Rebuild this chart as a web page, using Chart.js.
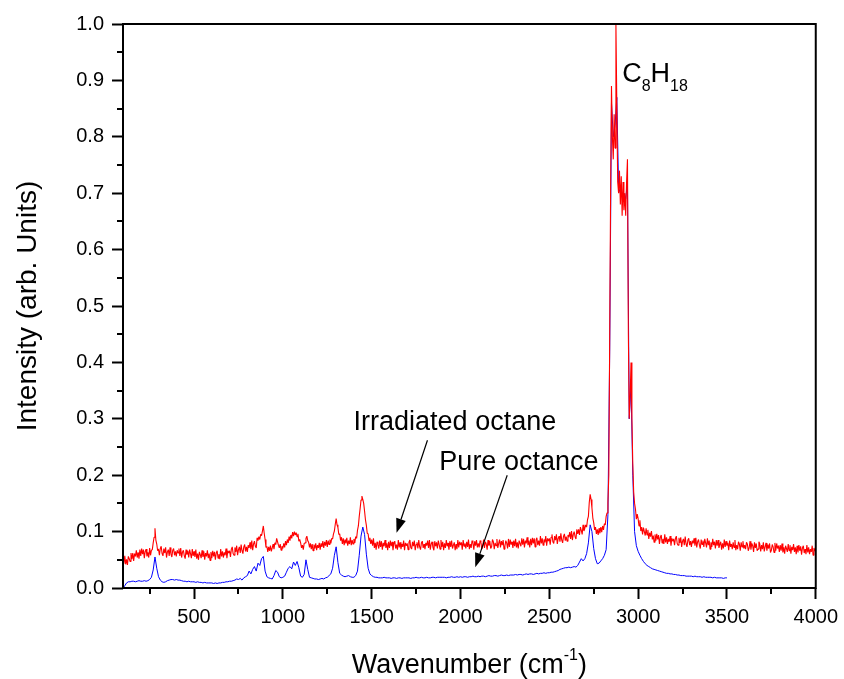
<!DOCTYPE html>
<html>
<head>
<meta charset="utf-8">
<title>Raman spectra of octane</title>
<script src="https://cdn.jsdelivr.net/npm/chart.js@4.4.1/dist/chart.umd.min.js"></script>
<style>
  html, body { margin: 0; padding: 0; background: #fff; }
  #spectrum { display: block; }
</style>
</head>
<body>
<canvas id="spectrum" width="844" height="679"></canvas>
<script>
// irradiated octane, 100 .. 4000 cm-1 every 5 cm-1 (one row = 100 cm-1)
const irradiatedStart = 100;
const irradiatedStep = 5;
const irradiated = [
  0.046, 0.043, 0.057, 0.042, 0.051, 0.041, 0.056, 0.052, 0.047, 0.062, 0.051, 0.062, 0.048, 0.061, 0.056, 0.067, 0.054, 0.063, 0.052, 0.068,
  0.057, 0.070, 0.060, 0.068, 0.053, 0.065, 0.069, 0.056, 0.063, 0.054, 0.071, 0.058, 0.067, 0.068, 0.080, 0.090, 0.106, 0.085, 0.078, 0.066,
  0.069, 0.058, 0.070, 0.074, 0.061, 0.057, 0.070, 0.062, 0.072, 0.054, 0.064, 0.068, 0.057, 0.072, 0.060, 0.055, 0.067, 0.070, 0.058, 0.065,
  0.056, 0.067, 0.062, 0.070, 0.057, 0.071, 0.054, 0.064, 0.067, 0.057, 0.052, 0.068, 0.059, 0.066, 0.054, 0.068, 0.061, 0.053, 0.069, 0.057,
  0.065, 0.055, 0.068, 0.052, 0.061, 0.050, 0.064, 0.059, 0.053, 0.067, 0.055, 0.065, 0.050, 0.062, 0.056, 0.067, 0.053, 0.061, 0.049, 0.064,
  0.053, 0.066, 0.056, 0.064, 0.050, 0.062, 0.066, 0.053, 0.060, 0.051, 0.069, 0.056, 0.065, 0.054, 0.063, 0.058, 0.070, 0.053, 0.066, 0.062,
  0.066, 0.055, 0.069, 0.073, 0.061, 0.058, 0.072, 0.064, 0.075, 0.058, 0.068, 0.073, 0.062, 0.077, 0.066, 0.061, 0.073, 0.077, 0.065, 0.073,
  0.064, 0.076, 0.071, 0.081, 0.069, 0.084, 0.067, 0.078, 0.083, 0.074, 0.071, 0.089, 0.084, 0.091, 0.086, 0.095, 0.093, 0.101, 0.110, 0.097,
  0.086, 0.072, 0.074, 0.064, 0.073, 0.066, 0.075, 0.065, 0.071, 0.078, 0.069, 0.080, 0.077, 0.088, 0.082, 0.076, 0.071, 0.078, 0.067, 0.074,
  0.070, 0.079, 0.072, 0.083, 0.076, 0.086, 0.080, 0.091, 0.084, 0.094, 0.088, 0.099, 0.092, 0.100, 0.094, 0.098, 0.091, 0.096, 0.083, 0.086,
  0.080, 0.071, 0.076, 0.068, 0.079, 0.080, 0.088, 0.092, 0.084, 0.081, 0.072, 0.079, 0.069, 0.078, 0.066, 0.077, 0.070, 0.079, 0.067, 0.076,
  0.071, 0.080, 0.068, 0.079, 0.073, 0.083, 0.071, 0.082, 0.075, 0.085, 0.073, 0.084, 0.077, 0.086, 0.079, 0.088, 0.087, 0.096, 0.101, 0.113,
  0.123, 0.112, 0.107, 0.095, 0.096, 0.084, 0.090, 0.078, 0.088, 0.076, 0.086, 0.079, 0.089, 0.075, 0.084, 0.078, 0.090, 0.076, 0.085, 0.078,
  0.087, 0.080, 0.091, 0.088, 0.102, 0.110, 0.127, 0.141, 0.156, 0.163, 0.157, 0.150, 0.136, 0.121, 0.111, 0.097, 0.096, 0.084, 0.089, 0.078,
  0.086, 0.075, 0.088, 0.071, 0.080, 0.068, 0.082, 0.077, 0.070, 0.084, 0.073, 0.083, 0.068, 0.080, 0.074, 0.085, 0.071, 0.079, 0.067, 0.082,
  0.071, 0.084, 0.074, 0.082, 0.067, 0.079, 0.083, 0.070, 0.077, 0.068, 0.085, 0.072, 0.081, 0.069, 0.078, 0.073, 0.084, 0.067, 0.080, 0.075,
  0.079, 0.068, 0.081, 0.085, 0.072, 0.069, 0.082, 0.074, 0.084, 0.067, 0.077, 0.081, 0.070, 0.085, 0.073, 0.068, 0.080, 0.083, 0.071, 0.078,
  0.069, 0.080, 0.075, 0.084, 0.071, 0.085, 0.068, 0.078, 0.082, 0.072, 0.067, 0.083, 0.074, 0.081, 0.070, 0.084, 0.077, 0.069, 0.085, 0.073,
  0.082, 0.067, 0.079, 0.071, 0.085, 0.074, 0.080, 0.068, 0.083, 0.073, 0.084, 0.070, 0.076, 0.081, 0.067, 0.078, 0.069, 0.085, 0.072, 0.082,
  0.076, 0.081, 0.068, 0.085, 0.074, 0.079, 0.070, 0.082, 0.073, 0.086, 0.069, 0.078, 0.071, 0.084, 0.080, 0.068, 0.083, 0.075, 0.085, 0.072,
  0.079, 0.072, 0.084, 0.081, 0.069, 0.074, 0.086, 0.071, 0.082, 0.078, 0.068, 0.085, 0.075, 0.083, 0.070, 0.073, 0.086, 0.082, 0.069, 0.080,
  0.075, 0.087, 0.071, 0.079, 0.086, 0.072, 0.083, 0.076, 0.085, 0.069, 0.074, 0.084, 0.080, 0.070, 0.087, 0.073, 0.086, 0.077, 0.082, 0.071,
  0.084, 0.074, 0.087, 0.072, 0.081, 0.070, 0.084, 0.079, 0.074, 0.088, 0.077, 0.087, 0.072, 0.084, 0.079, 0.090, 0.076, 0.084, 0.072, 0.087,
  0.076, 0.089, 0.079, 0.088, 0.073, 0.085, 0.089, 0.076, 0.084, 0.075, 0.092, 0.079, 0.088, 0.076, 0.086, 0.081, 0.092, 0.075, 0.088, 0.083,
  0.088, 0.077, 0.090, 0.095, 0.082, 0.079, 0.092, 0.085, 0.095, 0.078, 0.088, 0.092, 0.082, 0.097, 0.085, 0.080, 0.092, 0.096, 0.084, 0.091,
  0.083, 0.094, 0.090, 0.099, 0.087, 0.101, 0.085, 0.095, 0.100, 0.091, 0.087, 0.104, 0.096, 0.104, 0.094, 0.108, 0.102, 0.095, 0.112, 0.101,
  0.106, 0.112, 0.108, 0.121, 0.127, 0.152, 0.166, 0.157, 0.142, 0.124, 0.116, 0.103, 0.108, 0.096, 0.104, 0.094, 0.106, 0.097, 0.108, 0.099,
  0.110, 0.103, 0.114, 0.112, 0.127, 0.133, 0.152, 0.200, 0.450, 0.700, 0.890, 0.800, 0.760, 0.840, 0.780, 1.000, 0.860, 0.720, 0.700, 0.740,
  0.680, 0.730, 0.660, 0.720, 0.670, 0.700, 0.660, 0.720, 0.760, 0.450, 0.300, 0.340, 0.400, 0.300, 0.220, 0.170, 0.150, 0.140, 0.122, 0.131,
  0.123, 0.110, 0.120, 0.101, 0.108, 0.095, 0.107, 0.100, 0.093, 0.106, 0.094, 0.103, 0.087, 0.098, 0.091, 0.101, 0.086, 0.093, 0.081, 0.095,
  0.084, 0.096, 0.086, 0.094, 0.078, 0.090, 0.094, 0.080, 0.087, 0.078, 0.095, 0.081, 0.090, 0.078, 0.087, 0.082, 0.092, 0.075, 0.088, 0.083,
  0.087, 0.076, 0.088, 0.092, 0.079, 0.076, 0.089, 0.080, 0.090, 0.073, 0.083, 0.087, 0.076, 0.091, 0.078, 0.073, 0.085, 0.088, 0.076, 0.083,
  0.073, 0.084, 0.079, 0.088, 0.075, 0.089, 0.072, 0.082, 0.086, 0.076, 0.070, 0.086, 0.077, 0.084, 0.073, 0.087, 0.080, 0.072, 0.088, 0.076,
  0.084, 0.069, 0.081, 0.073, 0.087, 0.076, 0.082, 0.070, 0.085, 0.075, 0.085, 0.071, 0.077, 0.082, 0.068, 0.079, 0.070, 0.086, 0.073, 0.083,
  0.075, 0.080, 0.067, 0.084, 0.073, 0.078, 0.069, 0.081, 0.072, 0.085, 0.067, 0.076, 0.069, 0.082, 0.078, 0.066, 0.081, 0.073, 0.083, 0.070,
  0.076, 0.069, 0.081, 0.078, 0.066, 0.071, 0.083, 0.068, 0.079, 0.075, 0.064, 0.081, 0.071, 0.079, 0.066, 0.069, 0.082, 0.078, 0.065, 0.076,
  0.069, 0.081, 0.065, 0.073, 0.080, 0.066, 0.077, 0.070, 0.079, 0.063, 0.067, 0.077, 0.073, 0.063, 0.080, 0.066, 0.079, 0.070, 0.075, 0.064,
  0.076, 0.066, 0.079, 0.063, 0.072, 0.061, 0.075, 0.070, 0.064, 0.078, 0.066, 0.076, 0.061, 0.073, 0.067, 0.078, 0.064, 0.072, 0.060, 0.075,
  0.063, 0.076, 0.066, 0.074, 0.059, 0.071, 0.075, 0.062, 0.069, 0.060, 0.076, 0.063, 0.072, 0.060, 0.069, 0.064, 0.075, 0.058, 0.071, 0.066,
  0.065
];

// pure octane, 100 .. 3500 cm-1 every 10 cm-1
const pureStart = 100;
const pureStep = 10;
const pure = [
  0.000, 0.004, 0.009, 0.011, 0.011, 0.012, 0.012, 0.011, 0.012, 0.013,
  0.012, 0.012, 0.013, 0.012, 0.013, 0.015, 0.019, 0.032, 0.055, 0.035,
  0.020, 0.014, 0.011, 0.010, 0.011, 0.013, 0.014, 0.015, 0.015, 0.014,
  0.015, 0.014, 0.014, 0.013, 0.012, 0.012, 0.011, 0.012, 0.011, 0.011,
  0.011, 0.010, 0.011, 0.010, 0.010, 0.009, 0.010, 0.009, 0.009, 0.009,
  0.009, 0.008, 0.009, 0.008, 0.009, 0.009, 0.010, 0.010, 0.011, 0.011,
  0.012, 0.012, 0.013, 0.014, 0.016, 0.015, 0.017, 0.014, 0.018, 0.020,
  0.022, 0.030, 0.025, 0.033, 0.038, 0.030, 0.044, 0.040, 0.052, 0.056,
  0.030, 0.020, 0.018, 0.017, 0.016, 0.022, 0.031, 0.028, 0.020, 0.018,
  0.019, 0.021, 0.028, 0.035, 0.038, 0.034, 0.046, 0.040, 0.047, 0.036,
  0.021, 0.019, 0.024, 0.050, 0.033, 0.019, 0.018, 0.017, 0.016, 0.016,
  0.015, 0.016, 0.017, 0.016, 0.018, 0.019, 0.022, 0.025, 0.035, 0.058,
  0.073, 0.045, 0.026, 0.023, 0.021, 0.020, 0.021, 0.022, 0.020, 0.019,
  0.019, 0.022, 0.030, 0.058, 0.092, 0.108, 0.095, 0.060, 0.035, 0.025,
  0.022, 0.020, 0.019, 0.019, 0.018, 0.018, 0.018, 0.019, 0.018, 0.018,
  0.018, 0.017, 0.018, 0.018, 0.017, 0.018, 0.018, 0.017, 0.018, 0.018,
  0.018, 0.018, 0.017, 0.018, 0.018, 0.019, 0.018, 0.018, 0.019, 0.018,
  0.018, 0.019, 0.018, 0.018, 0.019, 0.019, 0.018, 0.019, 0.019, 0.019,
  0.019, 0.019, 0.018, 0.019, 0.019, 0.020, 0.019, 0.019, 0.020, 0.019,
  0.020, 0.019, 0.020, 0.020, 0.019, 0.020, 0.020, 0.021, 0.020, 0.020,
  0.021, 0.020, 0.021, 0.021, 0.020, 0.021, 0.022, 0.021, 0.021, 0.022,
  0.022, 0.021, 0.022, 0.023, 0.022, 0.022, 0.023, 0.022, 0.023, 0.023,
  0.023, 0.024, 0.023, 0.024, 0.024, 0.023, 0.024, 0.025, 0.024, 0.025,
  0.025, 0.024, 0.025, 0.026, 0.025, 0.026, 0.026, 0.027, 0.026, 0.027,
  0.027, 0.028, 0.028, 0.029, 0.030, 0.031, 0.033, 0.034, 0.035, 0.036,
  0.036, 0.037, 0.036, 0.037, 0.038, 0.037, 0.040, 0.046, 0.052, 0.048,
  0.052, 0.061, 0.080, 0.112, 0.100, 0.070, 0.052, 0.043, 0.044, 0.048,
  0.052, 0.058, 0.068, 0.130, 0.420, 0.860, 0.800, 0.820, 0.870, 0.710,
  0.700, 0.700, 0.700, 0.690, 0.720, 0.300, 0.360, 0.200, 0.100, 0.075,
  0.065, 0.058, 0.052, 0.047, 0.043, 0.040, 0.038, 0.036, 0.034, 0.033,
  0.032, 0.031, 0.030, 0.029, 0.028, 0.027, 0.026, 0.026, 0.025, 0.025,
  0.024, 0.024, 0.023, 0.023, 0.022, 0.022, 0.022, 0.021, 0.021, 0.021,
  0.021, 0.020, 0.021, 0.020, 0.020, 0.020, 0.019, 0.020, 0.019, 0.019,
  0.019, 0.019, 0.018, 0.019, 0.018, 0.018, 0.018, 0.018, 0.017, 0.018,
  0.018
];

// axis ticks
const xMajorTicks = [500, 1000, 1500, 2000, 2500, 3000, 3500, 4000];
const xMinorTicks = [250, 750, 1250, 1750, 2250, 2750, 3250, 3750];
const yMajorTicks = [0, 0.1, 0.2, 0.3, 0.4, 0.5, 0.6, 0.7, 0.8, 0.9, 1.0];
const yMinorTicks = [0.05, 0.15, 0.25, 0.35, 0.45, 0.55, 0.65, 0.75, 0.85, 0.95];

// text labels and where their arrows point (wavenumber, intensity)
const irradiatedLabel = { text: 'Irradiated octane', x: 1398, y: 0.280, from: [1814, 0.262], to: [1640, 0.098] };
const pureLabel = { text: 'Pure octance', x: 1881, y: 0.209, from: [2263, 0.200], to: [2083, 0.037] };
const formulaLabel = { x: 2910, y: 0.897 };

const FONT = '"Liberation Sans", Arial, sans-serif';

function toPoints(values, start, step) {
  return values.map((v, i) => ({ x: start + i * step, y: v }));
}

function drawArrow(c, x1, y1, x2, y2) {
  const ang = Math.atan2(y2 - y1, x2 - x1);
  const len = 14, half = 5;
  const bx = x2 - len * Math.cos(ang), by = y2 - len * Math.sin(ang);
  c.beginPath();
  c.moveTo(x1, y1);
  c.lineTo(bx, by);
  c.stroke();
  c.beginPath();
  c.moveTo(x2, y2);
  c.lineTo(bx + half * Math.sin(ang), by - half * Math.cos(ang));
  c.lineTo(bx - half * Math.sin(ang), by + half * Math.cos(ang));
  c.closePath();
  c.fill();
}

// frame, minor ticks, axis titles and labels
const decorPlugin = {
  id: 'decor',
  afterDraw(chart) {
    const c = chart.ctx;
    const a = chart.chartArea;
    const xs = chart.scales.x, ys = chart.scales.y;
    c.save();
    c.strokeStyle = '#000';
    c.fillStyle = '#000';
    c.lineWidth = 2;
    c.strokeRect(a.left, a.top, a.right - a.left, a.bottom - a.top);

    c.beginPath();
    xMinorTicks.forEach(v => {
      const px = Math.round(xs.getPixelForValue(v));
      c.moveTo(px, a.bottom);
      c.lineTo(px, a.bottom + 6);
    });
    yMinorTicks.forEach(v => {
      const py = Math.round(ys.getPixelForValue(v));
      c.moveTo(a.left - 6, py);
      c.lineTo(a.left, py);
    });
    c.stroke();

    // x title with superscript
    const big = '27px ' + FONT, small = '16px ' + FONT;
    c.textBaseline = 'alphabetic';
    c.textAlign = 'left';
    c.font = big;
    const t1 = 'Wavenumber (cm', t3 = ')';
    const w1 = c.measureText(t1).width, w3 = c.measureText(t3).width;
    c.font = small;
    const t2 = '-1';
    const w2 = c.measureText(t2).width;
    let tx = (a.left + a.right) / 2 - (w1 + w2 + w3) / 2;
    const ty = 673;
    c.font = big;
    c.fillText(t1, tx, ty);
    tx += w1;
    c.font = small;
    c.fillText(t2, tx, ty - 13);
    tx += w2;
    c.font = big;
    c.fillText(t3, tx, ty);

    // y title
    c.save();
    c.translate(36, (a.top + a.bottom) / 2);
    c.rotate(-Math.PI / 2);
    c.textAlign = 'center';
    c.font = '28px ' + FONT;
    c.fillText('Intensity (arb. Units)', 0, 0);
    c.restore();

    // curve labels with arrows
    c.textAlign = 'left';
    [irradiatedLabel, pureLabel].forEach(l => {
      c.font = big;
      c.fillText(l.text, xs.getPixelForValue(l.x), ys.getPixelForValue(l.y));
      c.lineWidth = 1.2;
      drawArrow(c,
        xs.getPixelForValue(l.from[0]), ys.getPixelForValue(l.from[1]),
        xs.getPixelForValue(l.to[0]), ys.getPixelForValue(l.to[1]));
    });

    // C8H18
    let fx = xs.getPixelForValue(formulaLabel.x);
    const fy = ys.getPixelForValue(formulaLabel.y);
    [['C', big, 0], ['8', small, 9], ['H', big, 0], ['18', small, 9]].forEach(([s, f, dy]) => {
      c.font = f;
      c.fillText(s, fx, fy + dy);
      fx += c.measureText(s).width;
    });
    c.restore();
  }
};

const ctx = document.getElementById('spectrum').getContext('2d');

const tickFont = { family: FONT, size: 20 };

let myChart = new Chart(ctx, {
  type: 'line',
  data: {
    datasets: [{
      label: 'Irradiated octane',
      data: toPoints(irradiated, irradiatedStart, irradiatedStep),
      borderColor: '#ff0000',
      borderWidth: 1.1,
      borderJoinStyle: 'bevel',
      pointRadius: 0,
      fill: false,
      tension: 0
    }, {
      label: 'Pure octance',
      data: toPoints(pure, pureStart, pureStep),
      borderColor: '#0000ff',
      borderWidth: 1,
      borderJoinStyle: 'bevel',
      pointRadius: 0,
      fill: false,
      tension: 0
    }]
  },
  options: {
    responsive: false,
    animation: false,
    devicePixelRatio: 1,
    layout: { padding: { top: 24, right: 27, left: 0, bottom: 0 } },
    plugins: {
      legend: { display: false },
      tooltip: { enabled: false }
    },
    scales: {
      x: {
        type: 'linear',
        min: 100,
        max: 4000,
        afterBuildTicks: (s) => { s.ticks = xMajorTicks.map(v => ({ value: v })); },
        afterFit: (s) => { s.height = 91; },
        border: { display: false },
        grid: { drawOnChartArea: false, tickLength: 11, tickWidth: 2, tickColor: '#000' },
        ticks: {
          color: '#000',
          font: tickFont,
          padding: 6,
          maxRotation: 0,
          callback: (v) => String(v)
        }
      },
      y: {
        type: 'linear',
        min: 0,
        max: 1,
        afterBuildTicks: (s) => { s.ticks = yMajorTicks.map(v => ({ value: v })); },
        afterFit: (s) => { s.width = 123; },
        border: { display: false },
        grid: { drawOnChartArea: false, tickLength: 11, tickWidth: 2, tickColor: '#000' },
        ticks: {
          color: '#000',
          font: tickFont,
          padding: 8,
          callback: (v) => v.toFixed(1)
        }
      }
    }
  },
  plugins: [decorPlugin]
});
</script>
</body>
</html>
